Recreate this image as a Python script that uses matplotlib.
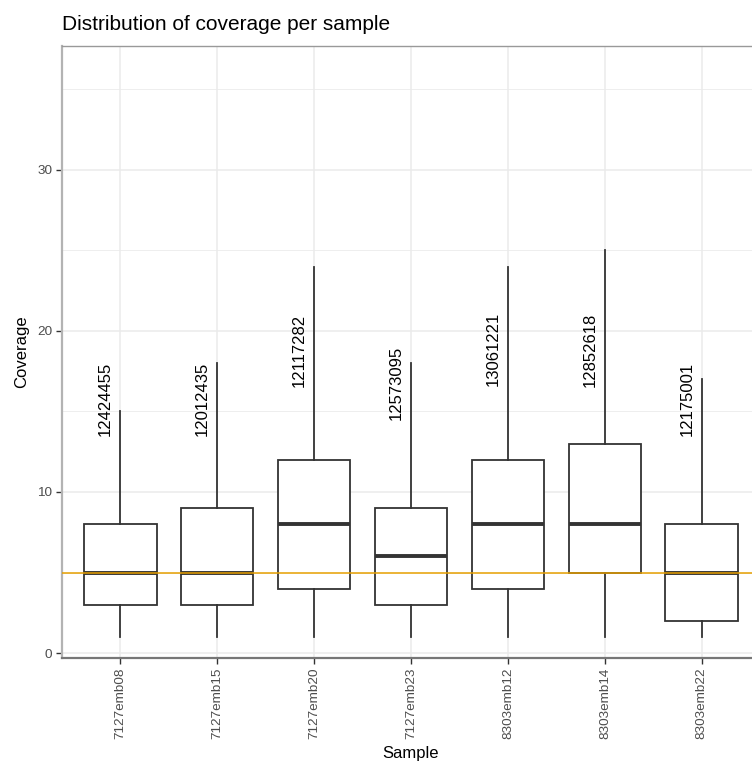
import matplotlib
matplotlib.use('Agg')
import matplotlib.pyplot as plt

# ------------------ DATA ------------------
samples = ['7127emb08', '7127emb15', '7127emb20', '7127emb23',
           '8303emb12', '8303emb14', '8303emb22']
whisker_low = [1, 1, 1, 1, 1, 1, 1]
q1 = [3, 3, 4, 3, 4, 5, 2]
median = [5, 5, 8, 6, 8, 8, 5]
q3 = [8, 9, 12, 9, 12, 13, 8]
whisker_high = [15, 18, 24, 18, 24, 25, 17]
read_counts = ['12424455', '12012435', '12117282', '12573095',
               '13061221', '12852618', '12175001']
label_y = [13.5, 13.5, 16.5, 14.5, 16.6, 16.5, 13.5]
threshold = 5
# ------------------------------------------

plt.rcParams['font.family'] = ['Liberation Sans', 'DejaVu Sans']

fig = plt.figure(figsize=(7.52, 7.65), dpi=100)
# panel runs a bit past the right edge, as in the cropped original
ax = fig.add_axes([62 / 752, 1 - 658 / 765, 698 / 752, 612 / 765])

positions = list(range(1, len(samples) + 1))
stats = []
for i, name in enumerate(samples):
    stats.append({'label': name, 'whislo': whisker_low[i], 'q1': q1[i],
                  'med': median[i], 'q3': q3[i], 'whishi': whisker_high[i]})

line_col = '#333333'
ax.bxp(stats, positions=positions, widths=0.75, showfliers=False,
       showcaps=False, patch_artist=True,
       boxprops=dict(facecolor='white', edgecolor=line_col, linewidth=1.3),
       whiskerprops=dict(color=line_col, linewidth=1.3),
       medianprops=dict(color=line_col, linewidth=2.8), zorder=3)

ax.axhline(threshold, color='#E69F00', linewidth=1.1, zorder=4)

for i, txt in enumerate(read_counts):
    ax.annotate(txt, xy=(positions[i], label_y[i]), xytext=(-5, 0),
                textcoords='offset points', rotation=90, ha='right',
                va='bottom', fontsize=12, color='black', zorder=5)

ax.set_xlim(0.4, 7.6)
ax.set_ylim(-0.31, 37.7)
ax.set_xticks(positions)
ax.set_xticklabels(samples, rotation=90)
ax.set_yticks([0, 10, 20, 30])
ax.set_yticks([5, 15, 25, 35], minor=True)
ax.tick_params(axis='both', which='major', length=4, width=1,
               color='#333333', labelcolor='#4D4D4D', labelsize=9.7, pad=3)
ax.tick_params(axis='y', which='minor', length=0)

ax.set_axisbelow(True)
ax.grid(True, which='major', color='#EBEBEB', linewidth=1.1)
ax.grid(True, which='minor', axis='y', color='#EBEBEB', linewidth=0.6)

for side in ['top', 'right']:
    ax.spines[side].set_color('#999999')
    ax.spines[side].set_linewidth(1)
ax.spines['left'].set_color('#b3b3b3')
ax.spines['left'].set_linewidth(1.6)
ax.spines['bottom'].set_color('#777777')
ax.spines['bottom'].set_linewidth(1.6)

ax.set_xlabel('Sample', fontsize=12, labelpad=5)
ax.set_ylabel('Coverage', fontsize=12, labelpad=6)

fig.text(62 / 752, 1 - 30 / 765, 'Distribution of coverage per sample',
         fontsize=15, ha='left', va='baseline')

fig.savefig('out.png', dpi=100)
